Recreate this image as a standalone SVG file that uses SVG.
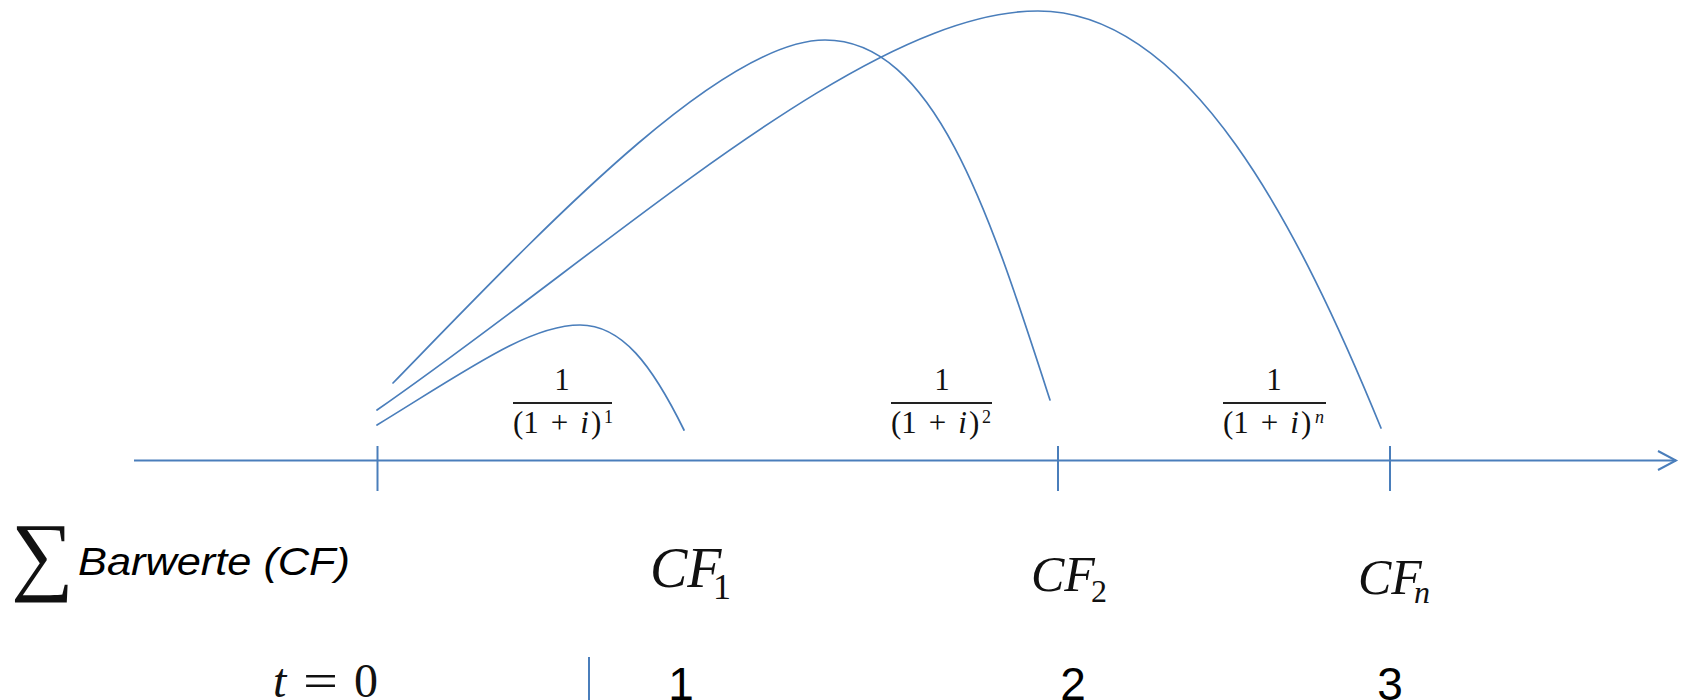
<svg xmlns="http://www.w3.org/2000/svg" width="1683" height="700" viewBox="0 0 1683 700">
<style>
.ln{fill:none;stroke:#4a7ebb;stroke-width:1.7;stroke-linecap:round}
.ax{fill:none;stroke:#4a7ebb;stroke-width:2}
.m{font-family:"Liberation Serif","DejaVu Serif",serif;fill:#111}
.it{font-style:italic}
.cal{font-family:"Liberation Sans","Open Sans",sans-serif;fill:#000}
.bar{stroke:#222;stroke-width:2}
</style>
<rect width="1683" height="700" fill="#fff"/>
<g id="connectors">
<line class="ax" x1="134" y1="460.5" x2="1676" y2="460.5"/>
<polyline class="ax" points="1658,451 1676,460.5 1658,470" stroke-linejoin="miter"/>
<line class="ax" x1="377.5" y1="446" x2="377.5" y2="491"/>
<line class="ax" x1="1058" y1="446" x2="1058" y2="491"/>
<line class="ax" x1="1390" y1="446" x2="1390" y2="491"/>
<line class="ax" x1="589" y1="657" x2="589" y2="700"/>
<path class="ln" d="M377,425 C470,368 530,325 580,325 C622,325 652,365 684,430"/>
<path class="ln" d="M393,383 C540,232 720,40 825,40 C935,40 990,215 1050,400"/>
<path class="ln" d="M377,410 C615,245 865,11 1038,11 C1190,11 1300,230 1381,428"/>
</g>
<g id="sum-label">
<text class="m" x="11" y="584" font-size="88">∑</text>
<text class="cal it" x="78" y="575" font-size="39" textLength="272" lengthAdjust="spacingAndGlyphs">Barwerte (CF)</text>
</g>
<g id="t0">
<text class="m it" x="273" y="697" font-size="48">t</text>
<text class="m" x="303" y="697" font-size="48" textLength="35" lengthAdjust="spacingAndGlyphs">=</text>
<text class="m" x="354" y="697" font-size="48">0</text>
</g>
<g id="frac1">
<text class="m" x="562" y="390" font-size="31" text-anchor="middle">1</text>
<line class="bar" x1="513" y1="403" x2="612" y2="403"/>
<text class="m" x="513" y="433" font-size="31">(1<tspan dx="12">+</tspan><tspan dx="12" class="it">i</tspan><tspan dx="2">)</tspan></text>
<text class="m" x="604" y="423" font-size="18">1</text>
</g>
<g id="frac2">
<text class="m" x="942" y="390" font-size="31" text-anchor="middle">1</text>
<line class="bar" x1="891" y1="403" x2="992" y2="403"/>
<text class="m" x="891" y="433" font-size="31">(1<tspan dx="12">+</tspan><tspan dx="12" class="it">i</tspan><tspan dx="2">)</tspan></text>
<text class="m" x="982" y="423" font-size="18">2</text>
</g>
<g id="frac3">
<text class="m" x="1274" y="390" font-size="31" text-anchor="middle">1</text>
<line class="bar" x1="1223" y1="403" x2="1326" y2="403"/>
<text class="m" x="1223" y="433" font-size="31">(1<tspan dx="12">+</tspan><tspan dx="12" class="it">i</tspan><tspan dx="2">)</tspan></text>
<text class="m it" x="1315" y="423" font-size="18">n</text>
</g>
<g id="cf1">
<text class="m it" x="650" y="587" font-size="56">CF</text>
<text class="m" x="713" y="599" font-size="36">1</text>
</g>
<g id="cf2">
<text class="m it" x="1031" y="591" font-size="50">CF</text>
<text class="m" x="1091" y="602" font-size="32">2</text>
</g>
<g id="cfn">
<text class="m it" x="1358" y="594" font-size="50">CF</text>
<text class="m it" x="1414" y="603" font-size="32">n</text>
</g>
<g id="periods">
<text class="cal" x="681" y="700" font-size="46" text-anchor="middle">1</text>
<text class="cal" x="1073" y="700" font-size="46" text-anchor="middle">2</text>
<text class="cal" x="1390" y="700" font-size="46" text-anchor="middle">3</text>
</g>
</svg>
